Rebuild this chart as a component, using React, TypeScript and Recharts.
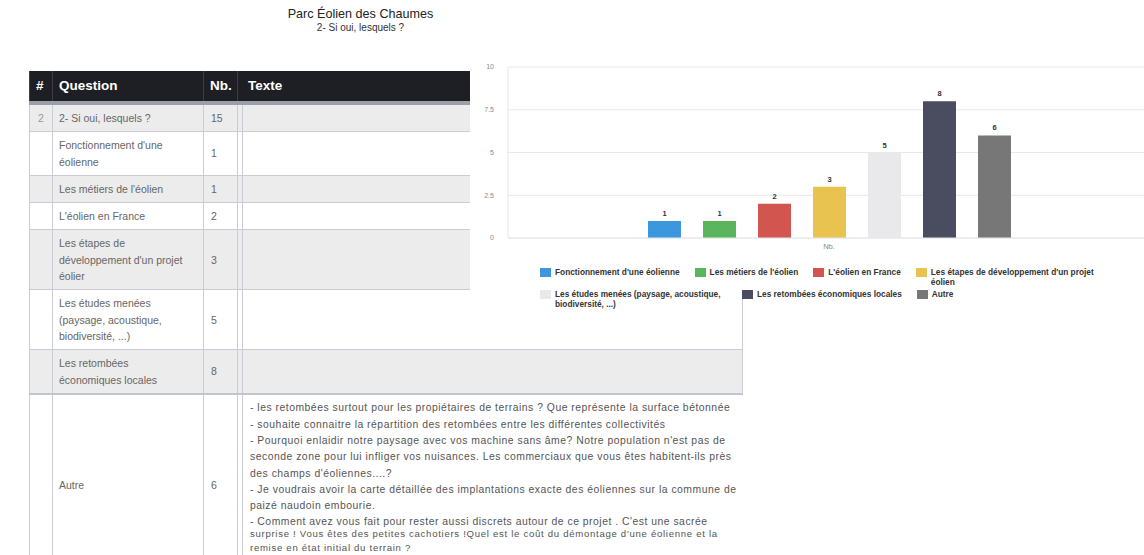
import React from 'react';
import { BarChart, Bar, XAxis, YAxis, CartesianGrid, Legend, LabelList } from 'recharts';

// page header
const chartTitle = 'Parc Éolien des Chaumes';
const questionTitle = '2- Si oui, lesquels ?';
const questionNumber = 2;
const respondents = 15;
const axisCategory = 'Nb.';

// legend names (chart) and row labels (table)
const seriesNames = [
  "Fonctionnement d'une éolienne",
  "Les métiers de l'éolien",
  "L'éolien en France",
  "Les étapes de développement d'un projet éolien",
  'Les études menées (paysage, acoustique, biodiversité, ...)',
  'Les retombées économiques locales',
  'Autre',
];
const tableLabels = [
  "Fonctionnement d'une\néolienne",
  "Les métiers de l'éolien",
  "L'éolien en France",
  "Les étapes de\ndéveloppement d'un projet\néolier",
  'Les études menées\n(paysage, acoustique,\nbiodiversité, ...)',
  'Les retombées\néconomiques locales',
  'Autre',
];
const counts = [1, 1, 2, 3, 5, 8, 6];
const yTicks = [0, 2.5, 5, 7.5, 10];
const tableHeaders = ['#', 'Question', 'Nb.', 'Texte'];

// free text answers for "Autre"
const otherComments = [
  '- les retombées surtout pour les propiétaires de terrains ? Que représente la surface bétonnée',
  '- souhaite connaitre la répartition des retombées entre les différentes collectivités',
  "- Pourquoi enlaidir notre paysage avec vos machine sans âme? Notre population n'est pas de",
  'seconde zone pour lui infliger vos nuisances. Les commerciaux que vous êtes habitent-ils près',
  "des champs d'éoliennes....?",
  '- Je voudrais avoir la carte détaillée des implantations exacte des éoliennes sur la commune de',
  'paizé naudoin embourie.',
  "- Comment avez vous fait pour rester aussi discrets autour de ce projet . C'est une sacrée",
];
const otherCommentsEnd = [
  "surprise ! Vous êtes des petites cachotiers !Quel est le coût du démontage d'une éolienne et la",
  'remise en état initial du terrain ?',
];

const COLORS = ['#3d97dd', '#5bb55d', '#d2564f', '#e9c350', '#e9e9eb', '#4a4d60', '#777777'];

const chartData = [
  { name: axisCategory, ...Object.fromEntries(counts.map((c, i) => ['s' + i, c])) },
];

const FONT = '"Liberation Sans", Arial, Helvetica, sans-serif';
const border = '1px solid #c9ccd6';

const renderLegend = (props: any) => {
  const items = [...(props.payload || [])].sort(
    (a: any, b: any) => seriesNames.indexOf(a.value) - seriesNames.indexOf(b.value)
  );
  return (
    <div style={{ display: 'flex', flexWrap: 'wrap', columnGap: 15, rowGap: 2, alignItems: 'flex-start', fontFamily: FONT }}>
      {items.map((entry: any) => (
        <div key={entry.value} style={{ display: 'flex', alignItems: 'flex-start' }}>
          <span style={{ width: 11, height: 9, background: entry.color, marginRight: 4, marginTop: 0.5, flex: 'none' }} />
          <span style={{ maxWidth: 172, fontSize: 8.3, lineHeight: '10px', fontWeight: 700, color: '#333' }}>
            {entry.value}
          </span>
        </div>
      ))}
    </div>
  );
};

export default function App() {
  const cell: React.CSSProperties = { border, padding: '5px 6px', verticalAlign: 'middle' };
  const head: React.CSSProperties = {
    color: '#fff',
    fontWeight: 700,
    fontSize: 13.5,
    padding: '0 6px',
    borderLeft: '1px solid #3c3d44',
    borderRight: '1px solid #3c3d44',
    borderBottom: '4px solid #9b9fa7',
    textAlign: 'left',
  };

  return (
    <div style={{ position: 'relative', width: 1144, height: 555, overflow: 'hidden', background: '#fff', fontFamily: FONT }}>
      <style>{'body{margin:0}'}</style>

      <div style={{ position: 'absolute', left: 0, top: 6, width: 721, textAlign: 'center' }}>
        <div style={{ fontSize: 12.6, lineHeight: '16px', color: '#222' }}>{chartTitle}</div>
        <div style={{ fontSize: 10, lineHeight: '12px', color: '#333' }}>{questionTitle}</div>
      </div>

      <table
        style={{
          position: 'absolute',
          left: 29,
          top: 71,
          width: 713,
          borderCollapse: 'collapse',
          tableLayout: 'fixed',
          fontSize: 10.5,
          lineHeight: '16.3px',
          color: '#666',
        }}
      >
        <colgroup>
          <col style={{ width: 23 }} />
          <col style={{ width: 151 }} />
          <col style={{ width: 34 }} />
          <col style={{ width: 5 }} />
          <col style={{ width: 500 }} />
        </colgroup>
        <thead>
          <tr style={{ height: 32, background: '#1e1f24' }}>
            <th style={head}>{tableHeaders[0]}</th>
            <th style={head}>{tableHeaders[1]}</th>
            <th style={head}>{tableHeaders[2]}</th>
            <th colSpan={2} style={{ ...head, paddingLeft: 10 }}>{tableHeaders[3]}</th>
          </tr>
        </thead>
        <tbody>
          <tr style={{ background: '#ececec' }}>
            <td style={{ ...cell, textAlign: 'center', color: '#999', padding: '5px 0' }}>{questionNumber}</td>
            <td style={cell}>{questionTitle}</td>
            <td style={{ ...cell, paddingLeft: 7 }}>{respondents}</td>
            <td style={cell} />
            <td style={cell} />
          </tr>
          {tableLabels.map((label, i) => {
            const last = i === tableLabels.length - 1;
            const rowCell: React.CSSProperties = last ? { ...cell, borderTop: '2px solid #c2c5cf' } : cell;
            return (
              <tr key={label} style={{ background: i % 2 === 1 ? '#ececec' : '#fff', height: last ? 182 : undefined }}>
                <td style={rowCell} />
                <td style={{ ...rowCell, whiteSpace: 'pre-line' }}>{label}</td>
                <td style={{ ...rowCell, paddingLeft: 7 }}>{counts[i]}</td>
                <td style={rowCell} />
                <td
                  style={
                    last
                      ? {
                          ...rowCell,
                          borderRight: 'none',
                          borderBottom: 'none',
                          verticalAlign: 'top',
                          padding: '5.5px 7px',
                          fontSize: 10.4,
                          letterSpacing: 0.5,
                          color: '#555',
                          whiteSpace: 'nowrap',
                        }
                      : rowCell
                  }
                >
                  {last && (
                    <>
                      {otherComments.map((line) => (
                        <div key={line}>{line}</div>
                      ))}
                      <div style={{ fontSize: 9.6, letterSpacing: 0.7, lineHeight: '14px', marginTop: -4 }}>
                        {otherCommentsEnd.map((line) => (
                          <div key={line}>{line}</div>
                        ))}
                      </div>
                    </>
                  )}
                </td>
              </tr>
            );
          })}
        </tbody>
      </table>

      <div style={{ position: 'absolute', left: 470, top: 55, width: 674, height: 237, background: '#fff' }} />

      <div style={{ position: 'absolute', left: 470, top: 55 }}>
        <BarChart
          width={680}
          height={260}
          data={chartData}
          margin={{ top: 12, right: 0, bottom: 57, left: 0 }}
          barSize={33}
          barGap={22}
          style={{ fontFamily: FONT }}
        >
          <CartesianGrid vertical={false} stroke="#e8e8e8" />
          <XAxis
            dataKey="name"
            height={20}
            tickLine={false}
            tickSize={4}
            axisLine={{ stroke: '#e3e8ee' }}
            tick={{ fontSize: 7.5, fill: '#8a8a8a' }}
          />
          <YAxis
            domain={[0, 10]}
            ticks={yTicks}
            width={38}
            tickLine={false}
            tickMargin={8}
            axisLine={{ stroke: '#e3e8ee' }}
            tick={{ fontSize: 7, fill: '#8a8a8a' }}
          />
          <Legend
            layout="horizontal"
            verticalAlign="middle"
            align="center"
            content={renderLegend}
            wrapperStyle={{ left: 70, top: 212, width: 590 }}
          />
          {seriesNames.map((name, i) => (
            <Bar key={name} dataKey={'s' + i} name={name} fill={COLORS[i]} isAnimationActive={false}>
              <LabelList dataKey={'s' + i} position="top" offset={5} fontSize={7.5} fontWeight={700} fill="#333" />
            </Bar>
          ))}
        </BarChart>
      </div>
    </div>
  );
}
